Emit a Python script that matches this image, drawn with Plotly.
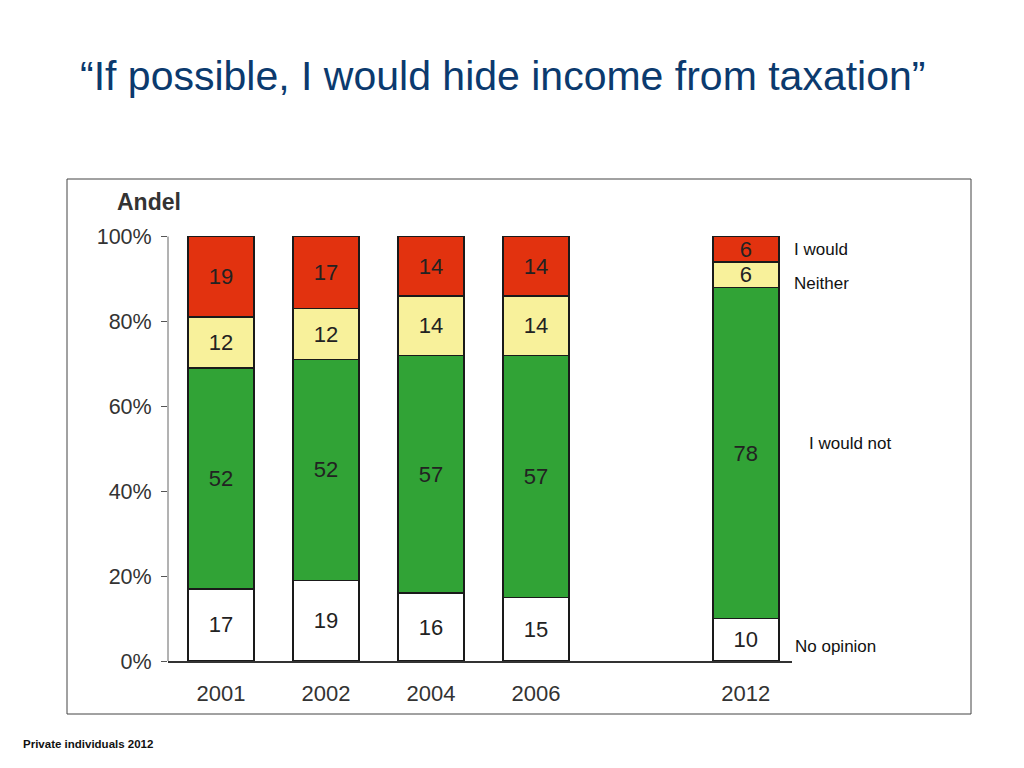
import plotly.graph_objects as go

# ---- data ----
years = ["2001", "2002", "2004", "2006", "2012"]
x_pos = [0, 1, 2, 3, 5]
no_opinion = [17, 19, 16, 15, 10]
would_not = [52, 52, 56, 57, 78]
neither = [12, 12, 14, 14, 6]
would = [19, 17, 14, 14, 6]
no_opinion_lbl = ["17", "19", "16", "15", "10"]
would_not_lbl = ["52", "52", "57", "57", "78"]
neither_lbl = ["12", "12", "14", "14", "6"]
would_lbl = ["19", "17", "14", "14", "6"]
y_ticks = [0, 20, 40, 60, 80, 100]
y_ticktext = ["0%", "20%", "40%", "60%", "80%", "100%"]

OFF = 8  # page body margin
W, H = 1024 - 2 * OFF, 768 - 2 * OFF
L, R, T, B = 168 - OFF, 792 - OFF, 234 - OFF, 661 - OFF
FONT = "Liberation Sans, Arial, Helvetica, sans-serif"


def px(x):
    return (x - OFF - L) / (R - L)


def py(y):
    return (B - (y - OFF)) / (B - T)


fig = go.Figure()
series = [
    (no_opinion, no_opinion_lbl, "#ffffff", "No opinion"),
    (would_not, would_not_lbl, "#31a336", "I would not"),
    (neither, neither_lbl, "#f8f19b", "Neither"),
    (would, would_lbl, "#e2320f", "I would"),
]
for vals, lbls, col, name in series:
    fig.add_trace(go.Bar(
        x=x_pos, y=vals, name=name, text=lbls, texttemplate="%{text}",
        textposition="inside", insidetextanchor="middle", constraintext="none",
        textangle=0,
        textfont=dict(size=22, color="#222222", family=FONT),
        marker=dict(color=col, line=dict(color="#1a1a1a", width=1.5)),
        width=0.63, showlegend=False, hoverinfo="skip",
    ))

fig.update_layout(
    barmode="stack",
    width=W, height=H,
    margin=dict(l=L, r=W - R, t=T, b=H - B, pad=0),
    plot_bgcolor="white", paper_bgcolor="white",
    font=dict(family=FONT, color="#333333"),
    xaxis=dict(
        range=[-0.505, 5.44], tickmode="array", tickvals=x_pos, ticktext=years,
        showgrid=False, zeroline=False, showline=True, linecolor="#333333",
        linewidth=1.5, ticks="", tickfont=dict(size=22, color="#333333"),
        ticklabelstandoff=12,
    ),
    yaxis=dict(
        range=[0, 100.6], tickmode="array", tickvals=y_ticks, ticktext=y_ticktext,
        showgrid=False, zeroline=False, showline=False, ticks="outside",
        ticklen=6, tickcolor="#555555", tickwidth=1,
        tickfont=dict(size=21.5, color="#333333"), ticklabelstandoff=5,
    ),
)

shapes = [
    # y axis line from 0% to 100%
    dict(type="line", xref="paper", yref="y", x0=0, x1=0, y0=0, y1=100,
         line=dict(color="#666666", width=1)),
    # outer frame
    dict(type="rect", xref="paper", yref="paper", x0=px(67), x1=px(971),
         y0=py(714), y1=py(179), line=dict(color="#444444", width=1)),
]
fig.update_layout(shapes=shapes)

ann = [
    dict(text="\u201cIf possible, I would hide income from taxation\u201d",
         x=px(502), y=py(76), xanchor="center", yanchor="middle",
         font=dict(size=41, color="#0b3a6e", family=FONT)),
    dict(text="<b>Andel</b>", x=px(115), y=py(202), xanchor="left", yanchor="middle",
         font=dict(size=23, color="#333333", family=FONT)),
    dict(text="I would", x=px(792), y=py(249), xanchor="left", yanchor="middle",
         font=dict(size=17, color="#111111", family=FONT)),
    dict(text="Neither", x=px(792), y=py(283), xanchor="left", yanchor="middle",
         font=dict(size=17, color="#111111", family=FONT)),
    dict(text="I would not", x=px(807), y=py(443), xanchor="left", yanchor="middle",
         font=dict(size=17, color="#111111", family=FONT)),
    dict(text="No opinion", x=px(793), y=py(646), xanchor="left", yanchor="middle",
         font=dict(size=17, color="#111111", family=FONT)),
    dict(text="<b>Private individuals 2012</b>", x=px(21), y=py(744),
         xanchor="left", yanchor="middle",
         font=dict(size=11.5, color="#111111", family=FONT)),
]
for a in ann:
    a.update(xref="paper", yref="paper", showarrow=False)
fig.update_layout(annotations=ann)

fig.write_html("out.html")
